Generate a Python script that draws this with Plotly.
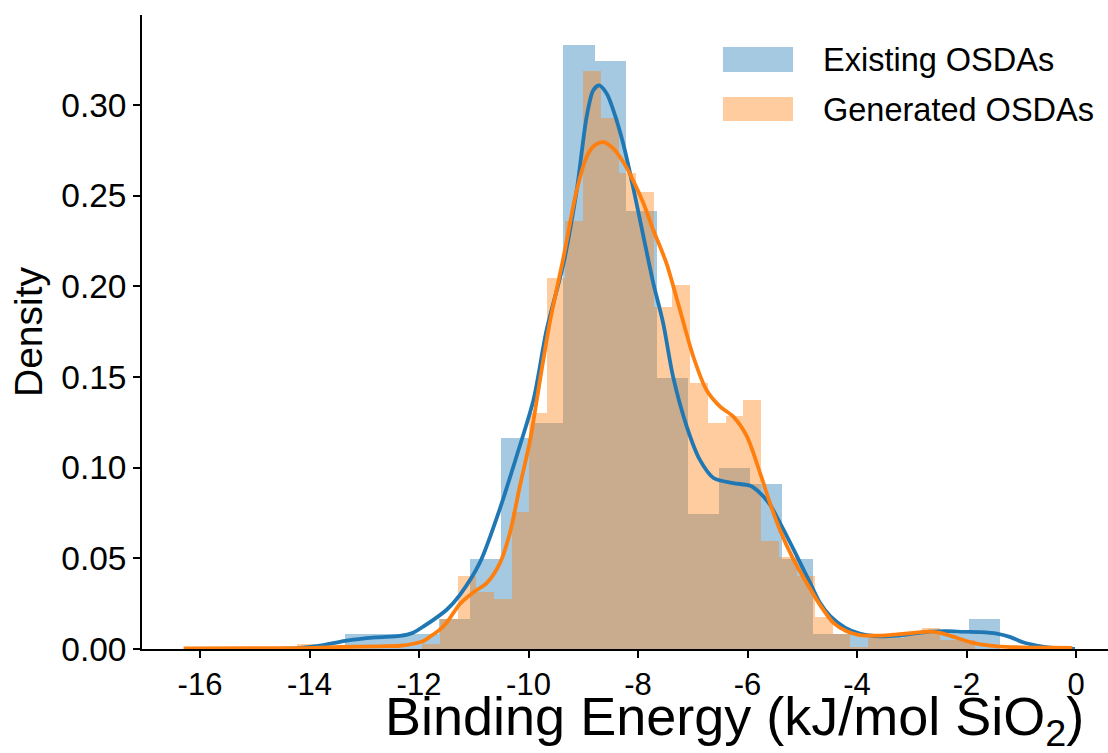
import plotly.graph_objects as go

# ---- Existing OSDAs: density histogram (equal-width bins) ----
existing_bin_start = -13.352
existing_bin_width = 0.5697
existing_density = [0.0083, 0.0083, 0.0083, 0.0166, 0.0498, 0.1166, 0.1247,
                    0.3330, 0.3246, 0.2415, 0.1493, 0.0747, 0.1001, 0.0911,
                    0.0498, 0.0083, 0.0083, 0.0083, 0.0083, 0.0083, 0.0166]

# ---- Generated OSDAs: density histogram (equal-width bins) ----
generated_bin_start = -14.22
generated_bin_width = 0.3258
generated_density = [0.0030, 0.0, 0.0, 0.0, 0.0, 0.0, 0.0, 0.0030, 0.0166,
                     0.0405, 0.0317, 0.0275, 0.0757, 0.1300, 0.2045, 0.2360,
                     0.3190, 0.2927, 0.2626, 0.2520, 0.1886, 0.2006, 0.1466,
                     0.1249, 0.1286, 0.1374, 0.0597, 0.0506, 0.0405, 0.0175,
                     0.0083, 0.0012, 0.0060, 0.0060, 0.0080, 0.0117, 0.0052,
                     0.0052]

# ---- Kernel density estimates ----
existing_kde_x = [-14.74, -14.17, -13.81, -13.35, -12.79, -12.35, -12.11, -11.91,
                  -11.49, -11.25, -10.89, -10.53, -10.22, -9.91, -9.67, -9.36,
                  -9.12, -8.94, -8.82, -8.71, -8.57, -8.45, -8.27, -8.09, -7.90,
                  -7.72, -7.54, -7.36, -7.11, -6.87, -6.62, -6.26, -5.95, -5.77,
                  -5.59, -5.41, -5.22, -5.04, -4.86, -4.68, -4.49, -4.22, -3.95,
                  -3.58, -3.27, -2.98, -2.67, -2.36, -2.06, -1.75, -1.45, -1.21,
                  -0.97, -0.72, -0.47, -0.02]
existing_kde_y = [0.0, 0.0006, 0.0018, 0.0045, 0.0064, 0.0072, 0.0090, 0.0126,
                  0.0218, 0.0300, 0.0476, 0.0768, 0.1062, 0.1374, 0.1760, 0.2128,
                  0.2530, 0.2934, 0.3081, 0.3109, 0.3063, 0.2971, 0.2787, 0.2548,
                  0.2273, 0.2017, 0.1796, 0.1502, 0.1227, 0.1043, 0.0943, 0.0915,
                  0.0900, 0.0860, 0.0796, 0.0697, 0.0586, 0.0476, 0.0366, 0.0256,
                  0.0181, 0.0118, 0.0085, 0.0070, 0.0074, 0.0085, 0.0096, 0.0098,
                  0.0095, 0.0093, 0.0085, 0.0067, 0.0037, 0.0019, 0.0007, 0.0]

generated_kde_x = [-16.30, -15.09, -14.05, -13.44, -12.71, -12.35, -12.10, -11.92,
                   -11.80, -11.62, -11.49, -11.25, -11.01, -10.76, -10.52, -10.34,
                   -10.16, -9.97, -9.79, -9.61, -9.36, -9.12, -8.94, -8.79, -8.63,
                   -8.45, -8.27, -8.09, -7.90, -7.72, -7.48, -7.26, -6.99, -6.75,
                   -6.50, -6.26, -6.01, -5.77, -5.59, -5.41, -5.16, -4.92, -4.68,
                   -4.43, -4.19, -3.95, -3.58, -3.27, -2.97, -2.67, -2.48, -2.18,
                   -1.88, -1.57, -1.27, -0.84, -0.47, -0.07]
generated_kde_y = [0.0003, 0.0004, 0.0005, 0.0011, 0.0015, 0.0018, 0.0029, 0.0044,
                   0.0068, 0.0107, 0.0148, 0.0250, 0.0312, 0.0365, 0.0475, 0.0640,
                   0.0896, 0.1154, 0.1484, 0.1803, 0.2163, 0.2530, 0.2714, 0.2778,
                   0.2796, 0.2760, 0.2686, 0.2585, 0.2457, 0.2310, 0.2127, 0.1897,
                   0.1612, 0.1429, 0.1337, 0.1282, 0.1172, 0.0970, 0.0805, 0.0658,
                   0.0493, 0.0365, 0.0245, 0.0144, 0.0098, 0.0077, 0.0074, 0.0081,
                   0.0089, 0.0096, 0.0089, 0.0062, 0.0034, 0.0019, 0.0012, 0.0008,
                   0.0007, 0.0006]

series_names = ["Existing OSDAs", "Generated OSDAs"]
line_colors = ["#1f77b4", "#ff7f0e"]
bar_colors = ["rgba(31,119,180,0.4)", "rgba(255,127,14,0.4)"]

x_ticks = [-16, -14, -12, -10, -8, -6, -4, -2, 0]
x_tick_labels = ["-16", "-14", "-12", "-10", "-8", "-6", "-4", "-2", "0"]
y_ticks = [0.0, 0.05, 0.10, 0.15, 0.20, 0.25, 0.30]
y_tick_labels = ["0.00", "0.05", "0.10", "0.15", "0.20", "0.25", "0.30"]

FONT = "Liberation Sans"


def bin_centers(start, width, n):
    return [start + (i + 0.5) * width for i in range(n)]


fig = go.Figure()

hist_specs = [
    (existing_bin_start, existing_bin_width, existing_density),
    (generated_bin_start, generated_bin_width, generated_density),
]
for (start, width, dens), color in zip(hist_specs, bar_colors):
    fig.add_trace(go.Bar(
        x=bin_centers(start, width, len(dens)), y=dens, width=width,
        marker=dict(color=color, line=dict(width=0)), showlegend=False,
        hoverinfo="skip"))

for kx, ky, color in [(existing_kde_x, existing_kde_y, line_colors[0]),
                      (generated_kde_x, generated_kde_y, line_colors[1])]:
    fig.add_trace(go.Scatter(
        x=kx, y=ky, mode="lines",
        line=dict(color=color, width=3.8, shape="spline", smoothing=0.8),
        showlegend=False, hoverinfo="skip"))

# legend drawn as patches with labels (top right)
shapes = []
annotations = []
patch_rows = [(0.9102, 0.9496, 0.9291), (0.8329, 0.8708, 0.8503)]
for (y0, y1, yc), name, color in zip(patch_rows, series_names, bar_colors):
    shapes.append(dict(type="rect", xref="paper", yref="paper",
                       x0=0.6014, x1=0.6739, y0=y0, y1=y1,
                       fillcolor=color, line=dict(width=0)))
    annotations.append(dict(text=name, xref="paper", yref="paper", x=0.7025, y=yc,
                            xanchor="left", yanchor="middle", showarrow=False,
                            font=dict(family=FONT, size=32.5, color="black")))

annotations.append(dict(text="Binding Energy (kJ/mol SiO<sub>2</sub>)", xref="paper",
                        yref="paper", x=0.6134, y=-0.055, xanchor="center",
                        yanchor="top", showarrow=False,
                        font=dict(family=FONT, size=54, color="black")))
annotations.append(dict(text="Density", xref="paper", yref="paper", x=-0.118, y=0.5,
                        xanchor="center", yanchor="middle", textangle=-90,
                        showarrow=False, font=dict(family=FONT, size=39, color="black")))

fig.update_layout(
    width=1108, height=753,
    margin=dict(l=142, r=0, t=15, b=103.5, pad=0),
    paper_bgcolor="white", plot_bgcolor="white",
    barmode="overlay", bargap=0,
    shapes=shapes, annotations=annotations,
    font=dict(family=FONT, color="black"),
)
fig.update_xaxes(range=[-17.06, 0.584], showgrid=False, zeroline=False,
                 showline=True, linecolor="black", linewidth=1.6,
                 ticks="outside", ticklen=7, tickwidth=1.6, tickcolor="black",
                 tickvals=x_ticks, ticktext=x_tick_labels,
                 tickfont=dict(family=FONT, size=31, color="black"))
fig.update_yaxes(range=[0, 0.3497], showgrid=False, zeroline=False,
                 showline=True, linecolor="black", linewidth=1.6,
                 ticks="outside", ticklen=7, tickwidth=1.6, tickcolor="black",
                 tickvals=y_ticks, ticktext=y_tick_labels,
                 tickfont=dict(family=FONT, size=33.5, color="black"))

fig.write_html("out.html")
